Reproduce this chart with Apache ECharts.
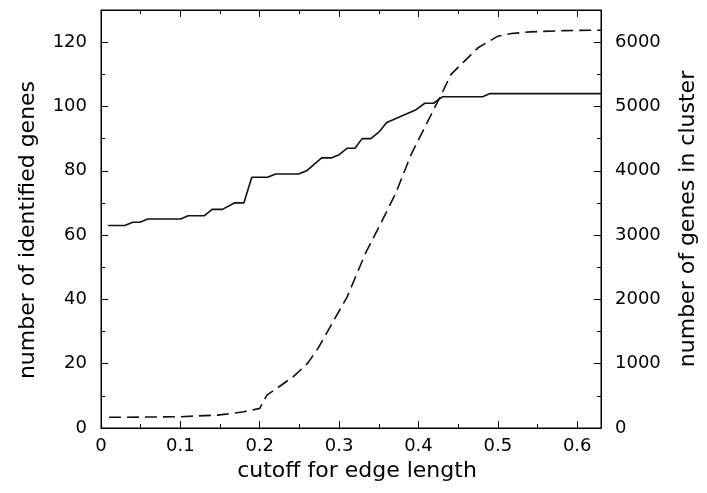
<!DOCTYPE html>
<html>
<head>
<meta charset="utf-8">
<script src="https://cdn.jsdelivr.net/npm/echarts@6/dist/echarts.min.js"></script>
<style>
  html, body { margin: 0; padding: 0; background: #fff; }
  #chart { width: 707px; height: 493px; }
</style>
</head>
<body>
<div id="chart"></div>
<script>
// 数据：读自原图
const identifiedX = [0.009, 0.03, 0.04, 0.049, 0.059, 0.10, 0.11, 0.13, 0.14, 0.153, 0.168, 0.18, 0.19, 0.21, 0.22, 0.249, 0.259, 0.278, 0.29, 0.30, 0.31, 0.32, 0.329, 0.34, 0.35, 0.36, 0.397, 0.408, 0.419, 0.43, 0.481, 0.49, 0.63];
const identifiedY = [63, 63, 64, 64, 65, 65, 66, 66, 68, 68, 70, 70, 78, 78, 79, 79, 80, 84, 84, 85, 87, 87, 90, 90, 92, 95, 99, 101, 101, 103, 103, 104, 104];

const clusterX = [0.01, 0.05, 0.10, 0.118, 0.147, 0.16, 0.18, 0.20, 0.209, 0.222, 0.243, 0.26, 0.274, 0.29, 0.31, 0.333, 0.35, 0.371, 0.391, 0.412, 0.429, 0.441, 0.458, 0.475, 0.50, 0.517, 0.541, 0.584, 0.63];
const clusterY = [166, 170, 175, 186, 200, 220, 253, 305, 512, 620, 806, 1000, 1250, 1600, 2036, 2710, 3121, 3640, 4260, 4775, 5190, 5500, 5705, 5912, 6093, 6134, 6160, 6180, 6186];

const xTicks = [0, 0.1, 0.2, 0.3, 0.4, 0.5, 0.6];
const leftTicks = [0, 20, 40, 60, 80, 100, 120];
const rightTicks = [0, 1000, 2000, 3000, 4000, 5000, 6000];

const font = 'DejaVu Sans';

const pair = (xs, ys) => xs.map((x, i) => [x, ys[i]]);

const myChart = echarts.init(document.getElementById('chart'));

//坐标轴公共样式，onZero 关掉，不然轴会跑到另一边
const axisBase = {
  axisLine: { show: true, onZero: false, lineStyle: { color: '#000', width: 1 } },
  axisTick: { show: true, inside: true, length: 7, lineStyle: { color: '#000' } },
  minorTick: { show: true, splitNumber: 2, length: 4, lineStyle: { color: '#000' } },
  splitLine: { show: false }
};
const nameStyle = { fontFamily: font, fontSize: 22, color: '#000' };
const labelBase = { fontFamily: font, fontSize: 18, color: '#000', showMaxLabel: false };

myChart.setOption({
  animation: false,
  backgroundColor: '#fff',
  grid: {
    left: 101, right: 103, top: 10, bottom: 65,
    show: true, borderColor: '#000', borderWidth: 1
  },
  xAxis: [{
    ...axisBase,
    type: 'value', min: 0, max: 0.63, interval: 0.1,
    name: 'cutoff for edge length', nameLocation: 'middle', nameGap: 31,
    nameTextStyle: { ...nameStyle, padding: [0, 0, 0, 12] },
    axisLabel: { ...labelBase, margin: 9, formatter: v => xTicks.includes(+v.toFixed(2)) ? String(+v.toFixed(1)) : '' }
  }, {
    ...axisBase,
    type: 'value', min: 0, max: 0.63, interval: 0.1, position: 'top',
    axisLabel: { show: false }
  }],
  yAxis: [{
    ...axisBase,
    type: 'value', min: 0, max: 130, interval: 20, position: 'left',
    name: 'number of identified genes', nameLocation: 'middle', nameGap: 62,
    nameTextStyle: { ...nameStyle, padding: [0, 22, 0, 0] },
    axisLabel: { ...labelBase, margin: 14, formatter: v => leftTicks.includes(v) ? String(v) : '' }
  }, {
    ...axisBase,
    type: 'value', min: 0, max: 6500, interval: 1000, position: 'right',
    name: 'number of genes in cluster', nameLocation: 'middle', nameGap: 76,
    nameTextStyle: nameStyle,
    axisLabel: { ...labelBase, margin: 14, formatter: v => rightTicks.includes(v) ? String(v) : '' }
  }],
  series: [{
    name: 'identified',
    type: 'line',
    xAxisIndex: 0, yAxisIndex: 0,
    showSymbol: false,
    lineStyle: { color: '#111', width: 1.6 },
    data: pair(identifiedX, identifiedY)
  }, {
    name: 'cluster',
    type: 'line',
    xAxisIndex: 0, yAxisIndex: 1,
    showSymbol: false,
    lineStyle: { color: '#111', width: 1.6, type: [12, 6] },
    data: pair(clusterX, clusterY)
  }]
});
</script>
</body>
</html>
